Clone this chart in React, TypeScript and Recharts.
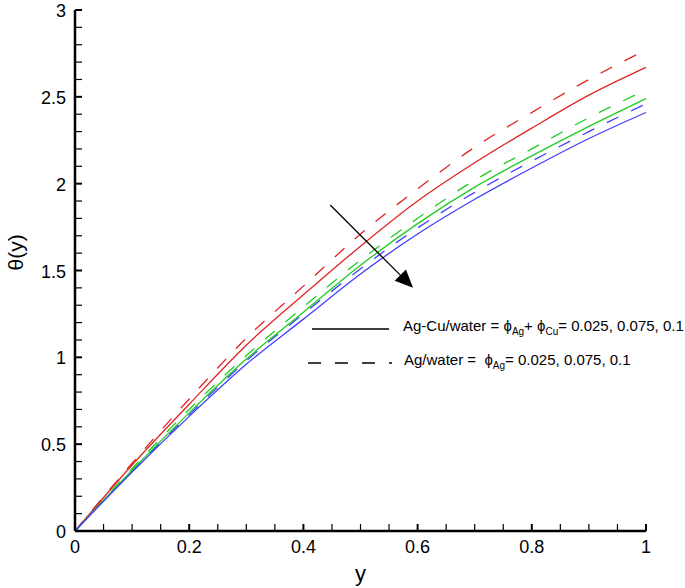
import { LineChart, Line, XAxis, YAxis, ReferenceLine } from "recharts";

// y positions across the channel
const yPos = [0, 0.1, 0.2, 0.3, 0.4, 0.5, 0.6, 0.7, 0.8, 0.9, 1];

// Ag-Cu/water (solid)
const agCu025 = [0, 0.38, 0.73, 1.07, 1.36, 1.64, 1.9, 2.12, 2.32, 2.51, 2.67];
const agCu075 = [0, 0.35, 0.68, 0.99, 1.26, 1.53, 1.77, 1.98, 2.16, 2.33, 2.49];
const agCu100 = [0, 0.34, 0.66, 0.96, 1.22, 1.48, 1.71, 1.91, 2.09, 2.26, 2.41];

// Ag/water (dashed)
const ag025 = [0, 0.39, 0.76, 1.11, 1.41, 1.71, 1.97, 2.21, 2.41, 2.6, 2.77];
const ag075 = [0, 0.36, 0.7, 1.01, 1.29, 1.56, 1.8, 2.02, 2.2, 2.38, 2.54];
const ag100 = [0, 0.345, 0.67, 0.98, 1.25, 1.51, 1.745, 1.95, 2.13, 2.3, 2.46];

const xTicks = Array.from({ length: 21 }, (_, i) => i / 20);
const yTicks = Array.from({ length: 31 }, (_, i) => i / 10);

const arrowFrom = { x: 0.447, y: 1.877 };
const arrowTo = { x: 0.592, y: 1.4 };

const data = yPos.map((y, i) => ({
  y,
  agCu025: agCu025[i],
  agCu075: agCu075[i],
  agCu100: agCu100[i],
  ag025: ag025[i],
  ag075: ag075[i],
  ag100: ag100[i],
}));

const RED = "#e02424";
const GREEN = "#1fcc1f";
const BLUE = "#4040ff";
const FONT = "'Liberation Sans', Arial, sans-serif";

const isMult = (v: number, step: number) =>
  Math.abs(v / step - Math.round(v / step)) < 1e-6;

const fmt = (v: number) => String(Math.round(v * 100) / 100);

const XTick = (props: any) => {
  const { x, y, payload } = props;
  const major = isMult(payload.value, 0.2);
  return (
    <g>
      <line x1={x} x2={x} y1={y} y2={y - 7} stroke="#000" strokeWidth={major ? 2 : 1.2} />
      {major && (
        <text x={x} y={y + 22} textAnchor="middle" fontSize={18} fontFamily={FONT} fill="#000">
          {fmt(payload.value)}
        </text>
      )}
    </g>
  );
};

const YTick = (props: any) => {
  const { x, y, payload } = props;
  const major = isMult(payload.value, 0.5);
  return (
    <g>
      <line x1={x} x2={x + 7} y1={y} y2={y} stroke="#000" strokeWidth={major ? 2 : 1.2} />
      {major && (
        <text x={x - 9} y={y + 7} textAnchor="end" fontSize={18} fontFamily={FONT} fill="#000">
          {fmt(payload.value)}
        </text>
      )}
    </g>
  );
};

const Arrow = (props: any) => {
  const { x1, y1, x2, y2 } = props;
  const dx = x2 - x1;
  const dy = y2 - y1;
  const len = Math.sqrt(dx * dx + dy * dy);
  const ux = dx / len;
  const uy = dy / len;
  const hl = 18;
  const hw = 8;
  const bx = x2 - ux * hl;
  const by = y2 - uy * hl;
  return (
    <g>
      <line x1={x1} y1={y1} x2={bx} y2={by} stroke="#000" strokeWidth={1.3} />
      <polygon
        points={`${x2},${y2} ${bx - uy * hw},${by + ux * hw} ${bx + uy * hw},${by - ux * hw}`}
        fill="#000"
      />
    </g>
  );
};

const sub = { fontSize: 10, verticalAlign: "-4px" } as const;

// legend drawn inside the plot, like the original figure
const LegendBox = () => (
  <div
    style={{
      position: "absolute",
      left: 308,
      top: 319,
      fontFamily: FONT,
      fontSize: 15,
      color: "#000",
      lineHeight: "20px",
    }}
  >
    <div style={{ display: "flex", alignItems: "center", height: 20 }}>
      <svg width={95} height={10} style={{ flexShrink: 0 }}>
        <line x1={4} x2={81} y1={5} y2={5} stroke="#000" strokeWidth={1.3} />
      </svg>
      <span style={{ whiteSpace: "nowrap" }}>
        Ag-Cu/water = ϕ<span style={sub}>Ag</span>+ ϕ<span style={sub}>Cu</span>= 0.025, 0.075, 0.1
      </span>
    </div>
    <div style={{ display: "flex", alignItems: "center", height: 20, marginTop: 14 }}>
      <svg width={96} height={10} style={{ flexShrink: 0 }}>
        <line x1={0} x2={84} y1={5} y2={5} stroke="#000" strokeWidth={1.3} strokeDasharray="13 14" />
      </svg>
      <span style={{ whiteSpace: "nowrap" }}>
        Ag/water = &nbsp;ϕ<span style={sub}>Ag</span>= 0.025, 0.075, 0.1
      </span>
    </div>
  </div>
);

export default function App() {
  return (
    <div style={{ position: "absolute", left: 0, top: 0, width: 685, height: 588, background: "#fff" }}>
      <LineChart width={685} height={588} data={data} margin={{ top: 10, right: 39, bottom: 0, left: 0 }}>
        <XAxis
          dataKey="y"
          type="number"
          domain={[0, 1]}
          ticks={xTicks}
          interval={0}
          tickSize={0}
          tickMargin={0}
          tick={<XTick />}
          height={57}
          axisLine={{ stroke: "#000", strokeWidth: 2.5 }}
          label={{ value: "y", position: "insideBottom", offset: 7, fontSize: 22, fontFamily: FONT, fill: "#000" }}
        />
        <YAxis
          type="number"
          domain={[0, 3]}
          ticks={yTicks}
          interval={0}
          tickSize={0}
          tickMargin={0}
          tick={<YTick />}
          width={75}
          axisLine={{ stroke: "#000", strokeWidth: 2.5 }}
          label={{ value: "θ(y)", angle: -90, position: "insideLeft", offset: 16, fontSize: 21, fontFamily: FONT, fill: "#000" }}
        />
        <Line dataKey="ag025" type="monotone" stroke={RED} strokeWidth={1.3} strokeDasharray="13 14" dot={false} isAnimationActive={false} />
        <Line dataKey="ag075" type="monotone" stroke={GREEN} strokeWidth={1.3} strokeDasharray="13 14" dot={false} isAnimationActive={false} />
        <Line dataKey="ag100" type="monotone" stroke={BLUE} strokeWidth={1.3} strokeDasharray="13 14" dot={false} isAnimationActive={false} />
        <Line dataKey="agCu025" type="monotone" stroke={RED} strokeWidth={1.3} dot={false} isAnimationActive={false} />
        <Line dataKey="agCu075" type="monotone" stroke={GREEN} strokeWidth={1.3} dot={false} isAnimationActive={false} />
        <Line dataKey="agCu100" type="monotone" stroke={BLUE} strokeWidth={1.3} dot={false} isAnimationActive={false} />
        <ReferenceLine segment={[arrowFrom, arrowTo]} shape={<Arrow />} ifOverflow="visible" />
      </LineChart>
      <LegendBox />
    </div>
  );
}
